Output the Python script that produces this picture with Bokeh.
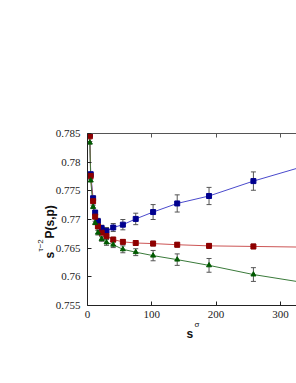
from bokeh.plotting import figure
from bokeh.models import (ColumnDataSource, Whisker, TeeHead, Title, LinearAxis,
                          FixedTicker, Range1d)
from bokeh.embed import file_html
from bokeh.resources import INLINE

# ---- data ----
s_vals = [3.6, 5.0, 8.7, 11.9, 16.2, 22, 29.5, 40, 55, 75, 102, 139.5, 189, 258]

blue_vals = [0.7848, 0.7779, 0.7737, 0.7712, 0.7697, 0.7685, 0.7680, 0.7686,
             0.7691, 0.7701, 0.7713, 0.7728, 0.7741, 0.7767]
blue_err = [0.0003, 0.0003, 0.0004, 0.0004, 0.0005, 0.0005, 0.0006, 0.0007,
            0.0009, 0.0010, 0.0013, 0.0015, 0.0015, 0.0016]

red_vals = [0.7845, 0.7776, 0.7732, 0.7705, 0.7688, 0.7677, 0.7671, 0.7665,
            0.7661, 0.7659, 0.7658, 0.7656, 0.7654, 0.7653]
red_err = [0.0002, 0.0002, 0.0003, 0.0003, 0.0003, 0.0003, 0.0003, 0.0004,
           0.0004, 0.0004, 0.0004, 0.0004, 0.0004, 0.0004]

green_vals = [0.7834, 0.7768, 0.7722, 0.7694, 0.7677, 0.7666, 0.7660, 0.7656,
              0.7648, 0.7643, 0.7637, 0.7630, 0.7620, 0.7604]
green_err = [0.0002, 0.0002, 0.0003, 0.0003, 0.0004, 0.0004, 0.0005, 0.0005,
             0.0006, 0.0006, 0.0009, 0.0010, 0.0012, 0.0012]

# fitted curves (start above the frame, end at right edge)
fit_s = [3.0] + s_vals + [325]
blue_fit = [0.7870] + blue_vals + [0.7789]
red_fit = [0.7866] + red_vals + [0.7652]
green_fit = [0.7856] + green_vals + [0.7592]

x_ticks = [0, 100, 200, 300]
y_ticks = [0.755, 0.76, 0.765, 0.77, 0.775, 0.78, 0.785]
y_tick_labels = ["0.755", "0.76", "0.765", "0.77", "0.775", "0.78", "0.785"]

# ---- figure ----
p = figure(width=296, height=375, output_backend="svg", toolbar_location=None,
           x_range=Range1d(0, 325), y_range=Range1d(0.755, 0.785),
           min_border_left=87, min_border_right=0, min_border_top=133,
           min_border_bottom=70)
p.outline_line_color = None
p.grid.visible = False

tick_font = "'Liberation Serif'"
for ax in list(p.xaxis) + list(p.yaxis):
    ax.major_tick_in = 4
    ax.major_tick_out = 0
    ax.minor_tick_line_color = None
    ax.major_label_text_font = tick_font
    ax.major_label_text_font_size = "11px"
    ax.major_label_text_color = "#222222"
    ax.axis_line_color = "#222222"
    ax.major_tick_line_color = "#222222"
for ax in p.xaxis:
    ax.ticker = FixedTicker(ticks=x_ticks)
    ax.major_label_standoff = 5
for ax in p.yaxis:
    ax.ticker = FixedTicker(ticks=y_ticks)
    ax.major_label_overrides = {t: l for t, l in zip(y_ticks, y_tick_labels)}
    ax.major_label_standoff = 7

top = LinearAxis(ticker=FixedTicker(ticks=x_ticks))
top.major_tick_in = 4
top.major_tick_out = 0
top.minor_tick_line_color = None
top.major_label_text_font_size = "0px"
top.major_label_text_color = None
top.axis_line_color = "#555555"
top.major_tick_line_color = "#555555"
p.add_layout(top, "above")

# ---- curves ----
p.line(fit_s, blue_fit, line_color="#4a4acc", line_width=1)
p.line(fit_s, red_fit, line_color="#cc5555", line_width=1)
p.line(fit_s, green_fit, line_color="#3a7a3a", line_width=1)

series = [
    (blue_vals, blue_err, "#00008f", "square"),
    (red_vals, red_err, "#8f0000", "square"),
    (green_vals, green_err, "#005a00", "triangle"),
]
for vals, err, col, mk in series:
    src = ColumnDataSource(dict(
        x=s_vals, y=vals,
        lo=[v - e for v, e in zip(vals, err)],
        hi=[v + e for v, e in zip(vals, err)]))
    w = Whisker(source=src, base="x", lower="lo", upper="hi",
                line_color="#555555", line_width=1,
                upper_head=TeeHead(size=5, line_color="#555555", line_width=1),
                lower_head=TeeHead(size=5, line_color="#555555", line_width=1))
    p.add_layout(w)
    p.scatter("x", "y", source=src, marker=mk, size=5,
              fill_color=col, line_color=col)

# ---- axis labels as stacked titles (superscripts in outer row/column) ----
def title(text, size, bold, offset, standoff=0):
    return Title(text=text, align="left", offset=offset, standoff=standoff,
                 text_font="Liberation Sans",
                 text_font_style="bold" if bold else "normal",
                 text_font_size=size, text_color="#111111")

p.add_layout(title("σ", "8px", False, 107, standoff=-5), "below")
p.add_layout(title("s", "12px", True, 99, standoff=-3), "below")

p.add_layout(title("s\u2007\u2007P(s,p)", "12px", True, 47, standoff=-8), "left")
p.add_layout(title("τ−2", "8px", False, 54), "left")

open("out.html", "w").write(file_html(p, INLINE))
